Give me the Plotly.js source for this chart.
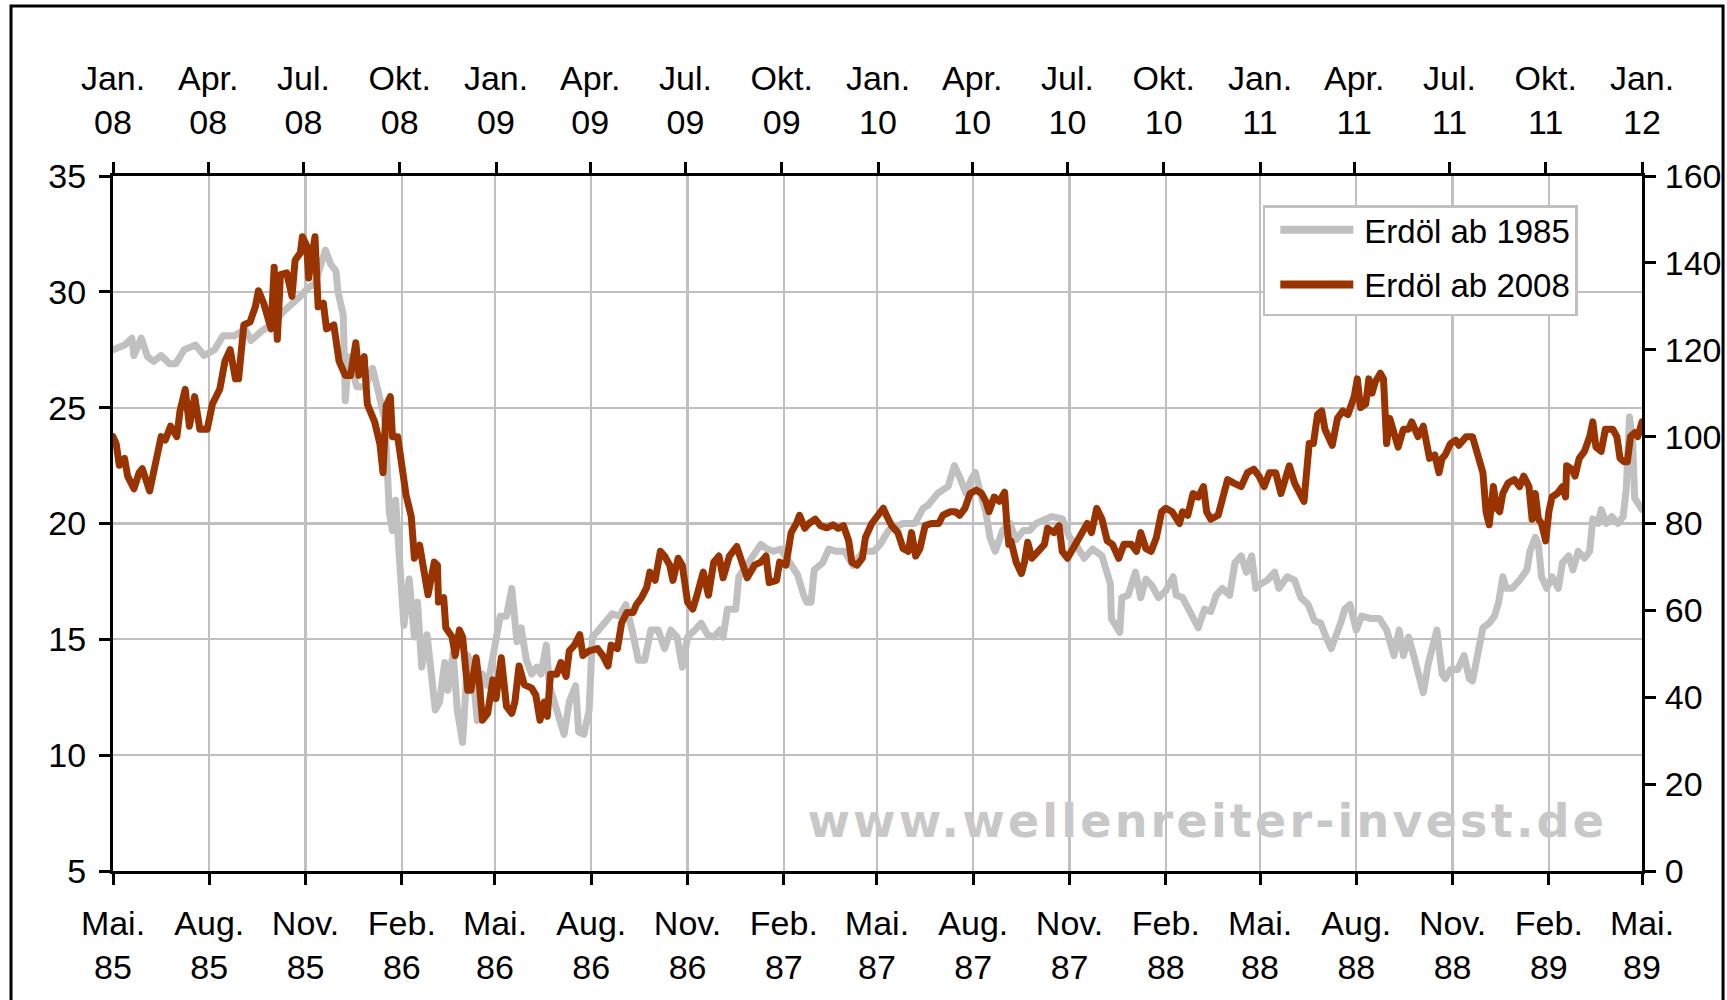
<!DOCTYPE html>
<html><head><meta charset="utf-8">
<script src="https://cdn.plot.ly/plotly-3.0.1.min.js"></script>
<style>
html,body{margin:0;padding:0;background:#fff;}
#chart{width:1727px;height:1000px;}
.scatterlayer path.js-line{stroke-linejoin:round;stroke-linecap:round;}
.annotation[data-index="0"] .annotation-text{letter-spacing:3.2px;}
</style></head><body><div id="chart"></div><script>
// ---- Data: crude oil from May 1985 (left axis, bottom dates) ----
const oil1985Dates = ["1985-05-01","1985-05-12","1985-05-19","1985-05-21","1985-05-28","1985-06-03","1985-06-09","1985-06-16","1985-06-24","1985-06-30","1985-07-08","1985-07-19","1985-07-27","1985-08-06","1985-08-14","1985-08-25","1985-09-04","1985-09-10","1985-09-20","1985-10-02","1985-10-12","1985-10-20","1985-10-27","1985-11-04","1985-11-10","1985-11-20","1985-11-25","1985-11-30","1985-12-02","1985-12-07","1985-12-09","1985-12-12","1985-12-20","1985-12-28","1986-01-04","1986-01-10","1986-01-16","1986-01-20","1986-01-23","1986-01-26","1986-01-31","1986-02-03","1986-02-08","1986-02-13","1986-02-16","1986-02-20","1986-02-25","1986-03-01","1986-03-05","1986-03-09","1986-03-14","1986-03-17","1986-03-22","1986-03-26","1986-03-31","1986-04-05","1986-04-10","1986-04-14","1986-04-19","1986-04-24","1986-04-30","1986-05-06","1986-05-12","1986-05-17","1986-05-22","1986-05-26","1986-05-31","1986-06-05","1986-06-10","1986-06-14","1986-06-19","1986-06-22","1986-06-28","1986-07-06","1986-07-11","1986-07-17","1986-07-20","1986-07-25","1986-07-30","1986-08-02","1986-08-08","1986-08-15","1986-08-21","1986-08-28","1986-09-03","1986-09-09","1986-09-15","1986-09-21","1986-09-27","1986-10-04","1986-10-10","1986-10-16","1986-10-22","1986-10-27","1986-11-01","1986-11-08","1986-11-14","1986-11-20","1986-11-26","1986-12-02","1986-12-05","1986-12-09","1986-12-17","1986-12-20","1986-12-27","1987-01-03","1987-01-10","1987-01-16","1987-01-22","1987-01-29","1987-02-06","1987-02-14","1987-02-20","1987-02-23","1987-02-27","1987-03-02","1987-03-10","1987-03-16","1987-03-23","1987-03-31","1987-04-08","1987-04-18","1987-04-28","1987-05-04","1987-05-12","1987-05-20","1987-05-26","1987-06-06","1987-06-14","1987-06-19","1987-06-28","1987-07-08","1987-07-11","1987-07-14","1987-07-20","1987-07-25","1987-07-30","1987-08-03","1987-08-08","1987-08-13","1987-08-17","1987-08-22","1987-08-29","1987-09-05","1987-09-11","1987-09-18","1987-09-24","1987-09-30","1987-10-15","1987-10-25","1987-11-01","1987-11-07","1987-11-15","1987-11-23","1987-12-02","1987-12-05","1987-12-10","1987-12-11","1987-12-16","1987-12-19","1987-12-21","1987-12-27","1988-01-03","1988-01-08","1988-01-13","1988-01-19","1988-01-25","1988-02-01","1988-02-08","1988-02-11","1988-02-17","1988-02-23","1988-02-28","1988-03-03","1988-03-09","1988-03-15","1988-03-20","1988-03-26","1988-04-02","1988-04-07","1988-04-13","1988-04-18","1988-04-23","1988-04-27","1988-05-02","1988-05-08","1988-05-15","1988-05-19","1988-05-27","1988-06-03","1988-06-09","1988-06-16","1988-06-22","1988-06-28","1988-07-03","1988-07-08","1988-07-17","1988-07-21","1988-07-26","1988-08-01","1988-08-06","1988-08-15","1988-08-23","1988-08-30","1988-09-06","1988-09-11","1988-09-15","1988-09-20","1988-09-26","1988-10-01","1988-10-04","1988-10-09","1988-10-14","1988-10-17","1988-10-22","1988-10-25","1988-10-30","1988-11-06","1988-11-12","1988-11-17","1988-11-20","1988-11-25","1988-11-30","1988-12-06","1988-12-11","1988-12-15","1988-12-19","1988-12-22","1988-12-28","1989-01-04","1989-01-11","1989-01-14","1989-01-19","1989-01-22","1989-01-25","1989-01-30","1989-02-04","1989-02-10","1989-02-14","1989-02-20","1989-02-24","1989-03-01","1989-03-07","1989-03-12","1989-03-15","1989-03-20","1989-03-23","1989-03-28","1989-04-02","1989-04-08","1989-04-13","1989-04-16","1989-04-19","1989-04-22","1989-04-24","1989-05-01"];
const oil1985Values = [27.5,27.7,28.0,27.25,28.0,27.2,27.0,27.25,26.9,26.9,27.5,27.7,27.25,27.5,28.1,28.1,28.4,27.9,28.3,28.7,29.2,29.5,29.8,30.2,30.35,31.8,31.2,30.9,30.0,29.0,25.3,27.2,25.9,25.9,26.7,25.6,24.4,20.5,19.7,21.0,18.2,15.6,17.6,15.1,16.6,13.8,15.2,13.5,11.95,12.3,14.0,12.8,14.4,11.95,10.55,14.3,13.5,11.5,13.5,13.0,14.4,16.0,16.0,17.2,14.9,15.5,14.1,13.5,13.8,13.5,14.75,13.0,12.1,10.9,12.3,13.0,11.0,10.9,11.95,15.1,15.4,15.8,16.1,16.0,16.5,15.4,14.1,14.1,15.4,15.4,14.6,15.4,15.1,13.8,15.1,15.4,15.7,15.2,15.1,15.4,15.1,16.3,16.3,17.7,18.2,18.6,19.1,18.9,18.8,18.9,18.3,17.8,16.9,16.6,16.6,18.0,18.3,18.9,18.8,18.8,18.2,18.8,18.8,19.1,19.7,19.9,20.0,20.0,20.65,20.8,21.3,21.6,22.2,22.5,21.9,21.3,21.9,22.2,21.3,20.5,19.4,18.8,19.7,20.0,19.3,19.7,19.7,20.0,20.3,20.2,19.4,19.1,18.5,18.9,18.6,18.2,17.4,15.9,15.5,15.3,16.8,16.9,17.9,16.8,17.6,17.3,16.8,17.1,17.7,16.9,16.8,16.3,15.8,15.5,16.3,16.2,16.9,17.2,16.9,18.3,18.6,17.9,18.6,17.2,17.4,17.55,17.9,17.2,17.7,17.55,16.8,16.5,15.8,15.7,15.1,14.6,15.7,16.3,16.5,15.4,16.0,15.9,15.9,15.4,14.3,15.4,14.3,15.1,14.1,13.2,12.7,14.0,14.75,15.4,13.5,13.3,13.7,13.7,14.3,13.3,13.2,14.4,15.5,15.7,16.0,16.6,17.7,17.2,17.2,17.55,18.0,18.8,19.4,19.1,17.7,17.2,17.7,17.2,18.3,18.6,18.0,18.8,18.5,18.8,20.2,20.0,20.6,20.0,20.3,20.0,20.3,21.5,24.6,23.6,21.1,20.6];

// ---- Data: crude oil from January 2008 (right axis, top dates) ----
const oil2008Dates = ["2008-01-01","2008-01-04","2008-01-07","2008-01-12","2008-01-15","2008-01-21","2008-01-26","2008-01-29","2008-02-05","2008-02-10","2008-02-16","2008-02-20","2008-02-25","2008-03-02","2008-03-05","2008-03-10","2008-03-14","2008-03-19","2008-03-24","2008-03-31","2008-04-05","2008-04-12","2008-04-17","2008-04-22","2008-04-27","2008-04-30","2008-05-05","2008-05-11","2008-05-16","2008-05-19","2008-05-24","2008-05-31","2008-06-03","2008-06-06","2008-06-09","2008-06-15","2008-06-20","2008-06-23","2008-06-28","2008-06-30","2008-07-04","2008-07-06","2008-07-09","2008-07-12","2008-07-15","2008-07-20","2008-07-23","2008-07-30","2008-08-04","2008-08-10","2008-08-15","2008-08-20","2008-08-23","2008-08-28","2008-08-31","2008-09-07","2008-09-12","2008-09-15","2008-09-18","2008-09-22","2008-09-24","2008-09-29","2008-10-02","2008-10-07","2008-10-12","2008-10-15","2008-10-20","2008-10-24","2008-10-28","2008-11-03","2008-11-06","2008-11-07","2008-11-12","2008-11-14","2008-11-20","2008-11-23","2008-11-27","2008-11-30","2008-12-05","2008-12-08","2008-12-13","2008-12-16","2008-12-19","2008-12-24","2008-12-29","2009-01-01","2009-01-06","2009-01-11","2009-01-16","2009-01-19","2009-01-23","2009-01-28","2009-02-04","2009-02-08","2009-02-12","2009-02-16","2009-02-19","2009-02-22","2009-02-28","2009-03-04","2009-03-09","2009-03-12","2009-03-17","2009-03-22","2009-03-25","2009-03-31","2009-04-08","2009-04-13","2009-04-18","2009-04-21","2009-04-27","2009-05-01","2009-05-06","2009-05-12","2009-05-15","2009-05-20","2009-05-25","2009-05-28","2009-06-02","2009-06-07","2009-06-11","2009-06-16","2009-06-19","2009-06-24","2009-06-28","2009-07-03","2009-07-08","2009-07-12","2009-07-18","2009-07-23","2009-07-28","2009-08-02","2009-08-06","2009-08-12","2009-08-19","2009-08-24","2009-08-29","2009-09-05","2009-09-11","2009-09-16","2009-09-19","2009-09-26","2009-09-29","2009-10-05","2009-10-10","2009-10-15","2009-10-18","2009-10-23","2009-10-27","2009-11-02","2009-11-07","2009-11-13","2009-11-19","2009-11-24","2009-11-29","2009-12-04","2009-12-07","2009-12-12","2009-12-17","2009-12-20","2009-12-26","2010-01-01","2010-01-06","2010-01-09","2010-01-14","2010-01-20","2010-01-25","2010-01-30","2010-02-02","2010-02-06","2010-02-10","2010-02-15","2010-02-21","2010-02-28","2010-03-04","2010-03-11","2010-03-16","2010-03-20","2010-03-25","2010-03-30","2010-04-05","2010-04-10","2010-04-14","2010-04-17","2010-04-22","2010-04-27","2010-05-02","2010-05-04","2010-05-06","2010-05-08","2010-05-13","2010-05-18","2010-05-21","2010-05-24","2010-05-28","2010-06-03","2010-06-09","2010-06-12","2010-06-18","2010-06-23","2010-06-26","2010-07-01","2010-07-06","2010-07-10","2010-07-15","2010-07-20","2010-07-24","2010-07-29","2010-08-03","2010-08-08","2010-08-13","2010-08-19","2010-08-24","2010-08-31","2010-09-05","2010-09-09","2010-09-14","2010-09-19","2010-09-24","2010-09-29","2010-10-03","2010-10-09","2010-10-16","2010-10-19","2010-10-24","2010-10-29","2010-11-03","2010-11-08","2010-11-11","2010-11-15","2010-11-22","2010-11-26","2010-12-01","2010-12-07","2010-12-14","2010-12-20","2010-12-26","2010-12-31","2011-01-05","2011-01-10","2011-01-16","2011-01-21","2011-01-24","2011-01-29","2011-02-03","2011-02-08","2011-02-12","2011-02-17","2011-02-21","2011-02-25","2011-03-01","2011-03-04","2011-03-08","2011-03-11","2011-03-16","2011-03-21","2011-03-26","2011-04-01","2011-04-04","2011-04-07","2011-04-12","2011-04-15","2011-04-18","2011-04-21","2011-04-26","2011-04-29","2011-05-02","2011-05-05","2011-05-08","2011-05-13","2011-05-18","2011-05-23","2011-05-26","2011-06-01","2011-06-06","2011-06-09","2011-06-12","2011-06-17","2011-06-21","2011-06-24","2011-06-27","2011-07-02","2011-07-07","2011-07-10","2011-07-17","2011-07-23","2011-07-28","2011-08-02","2011-08-05","2011-08-08","2011-08-12","2011-08-15","2011-08-18","2011-08-21","2011-08-26","2011-09-01","2011-09-06","2011-09-10","2011-09-15","2011-09-18","2011-09-21","2011-09-24","2011-09-27","2011-10-01","2011-10-04","2011-10-07","2011-10-12","2011-10-17","2011-10-20","2011-10-21","2011-10-26","2011-10-29","2011-11-02","2011-11-07","2011-11-12","2011-11-15","2011-11-18","2011-11-23","2011-11-27","2011-12-04","2011-12-08","2011-12-11","2011-12-15","2011-12-18","2011-12-21","2011-12-25","2011-12-28","2012-01-01"];
const oil2008Values = [100.0,98.4,93.4,95.0,90.9,88.0,91.7,92.6,87.5,92.6,100.0,99.2,102.4,100.0,105.9,110.9,102.4,109.2,101.7,101.7,107.5,110.9,117.4,120.0,113.3,113.3,125.7,126.4,129.9,133.6,130.7,124.8,139.0,122.4,137.3,137.7,132.3,140.6,142.3,146.0,144.0,136.5,143.0,146.0,129.9,130.7,124.8,125.7,117.4,114.1,114.1,121.6,114.1,118.4,107.5,103.4,98.4,91.7,107.1,109.2,100.0,100.0,95.0,86.6,81.6,72.0,75.0,70.0,63.6,71.1,70.4,61.9,62.9,56.0,53.9,49.6,55.5,53.9,41.6,41.6,49.1,43.2,34.7,36.3,44.0,39.7,49.1,37.9,36.3,38.9,47.2,42.9,42.1,40.5,34.7,38.9,35.6,45.3,45.3,48.0,44.8,50.7,52.0,54.4,49.6,50.7,51.2,49.6,47.2,52.0,51.2,57.1,59.5,59.5,61.3,62.9,65.3,68.8,66.9,73.6,72.5,70.4,66.9,72.0,70.4,61.9,60.3,63.5,68.8,63.5,71.1,72.5,67.5,72.5,74.7,71.1,67.5,70.4,71.1,72.5,66.4,66.9,71.1,70.4,77.9,80.0,81.9,78.9,80.0,81.0,79.5,79.0,79.7,78.9,79.5,76.0,71.1,70.4,72.0,76.8,80.0,81.9,83.5,81.9,79.5,77.9,74.2,73.6,77.9,72.5,74.2,79.5,80.0,80.0,81.9,82.7,82.7,81.9,83.5,86.9,87.7,86.9,85.1,82.7,86.1,85.1,87.2,80.0,75.2,76.0,71.1,68.5,71.1,75.7,72.0,73.6,75.2,78.9,77.9,79.5,73.6,72.0,74.2,76.0,77.9,80.0,77.9,83.5,81.0,76.0,75.2,72.0,75.2,75.2,73.6,77.9,74.2,73.6,76.8,82.7,83.5,82.7,80.0,82.7,81.9,86.9,86.1,88.5,82.7,81.0,81.9,85.1,90.1,89.3,88.5,91.7,92.5,90.9,88.5,91.7,91.7,86.9,89.3,93.3,89.3,86.9,85.1,98.4,98.4,105.1,105.9,101.7,100.0,98.0,104.2,105.9,105.1,109.2,113.3,106.7,107.5,113.3,110.0,112.5,114.6,113.3,98.4,104.2,101.7,97.6,101.7,101.7,103.4,100.0,102.4,99.2,95.0,95.8,91.7,95.0,95.8,98.4,99.2,98.0,100.0,100.0,95.0,91.7,82.7,79.7,88.5,83.5,82.7,86.9,89.3,90.1,88.5,90.9,88.5,81.0,86.9,81.0,80.0,76.0,82.7,86.1,86.9,88.5,86.1,93.3,92.5,90.9,95.0,96.6,100.0,103.4,97.6,96.6,101.7,101.7,100.0,95.0,94.2,94.2,100.0,100.9,100.0,103.4];

// ---- Ticks ----
const bottomTickDates = ["1985-05-01","1985-08-01","1985-11-01","1986-02-01","1986-05-01","1986-08-01","1986-11-01","1987-02-01","1987-05-01","1987-08-01","1987-11-01","1988-02-01","1988-05-01","1988-08-01","1988-11-01","1989-02-01","1989-05-01"];
const bottomTickText = ["Mai.<br>85","Aug.<br>85","Nov.<br>85","Feb.<br>86","Mai.<br>86","Aug.<br>86","Nov.<br>86","Feb.<br>87","Mai.<br>87","Aug.<br>87","Nov.<br>87","Feb.<br>88","Mai.<br>88","Aug.<br>88","Nov.<br>88","Feb.<br>89","Mai.<br>89"];
const topTickDates = ["2008-01-01","2008-04-01","2008-07-01","2008-10-01","2009-01-01","2009-04-01","2009-07-01","2009-10-01","2010-01-01","2010-04-01","2010-07-01","2010-10-01","2011-01-01","2011-04-01","2011-07-01","2011-10-01","2012-01-01"];
const topTickText = ["Jan.<br>08","Apr.<br>08","Jul.<br>08","Okt.<br>08","Jan.<br>09","Apr.<br>09","Jul.<br>09","Okt.<br>09","Jan.<br>10","Apr.<br>10","Jul.<br>10","Okt.<br>10","Jan.<br>11","Apr.<br>11","Jul.<br>11","Okt.<br>11","Jan.<br>12"];
const leftTicks = [5,10,15,20,25,30,35];
const rightTicks = [0,20,40,60,80,100,120,140,160];
const seriesNames = ["Erdöl ab 1985","Erdöl ab 2008"];
const watermark = "www.wellenreiter-invest.de";

const GRAY = '#C0C0C0', BROWN = '#993300';
const FONT = '"Liberation Sans", Arial, Helvetica, sans-serif';
const FS = 34;

const data = [
  {type:'scatter', mode:'lines', name:seriesNames[0], legendgroup:'a',
   x:oil1985Dates, y:oil1985Values, xaxis:'x', yaxis:'y',
   line:{color:GRAY, width:7}, hoverinfo:'skip'},
  {type:'scatter', mode:'lines', name:seriesNames[1], legendgroup:'b',
   x:oil2008Dates, y:oil2008Values, xaxis:'x2', yaxis:'y2',
   line:{color:BROWN, width:7}, hoverinfo:'skip'}
];

const axisCommon = {showline:true, linecolor:'#000', linewidth:3, ticks:'outside', ticklen:11, tickwidth:3, tickcolor:'#000', zeroline:false, fixedrange:true, automargin:false, tickfont:{family:FONT, size:FS, color:'#000'}};

const layout = {
  width:1727, height:1000,
  margin:{l:113, r:85, t:176, b:129, pad:0},
  paper_bgcolor:'#fff', plot_bgcolor:'#fff',
  font:{family:FONT, size:FS, color:'#000'},
  showlegend:true,
  legend:{x:0.752, y:0.958, xanchor:'left', yanchor:'top', bgcolor:'#fff', bordercolor:GRAY, borderwidth:2.5,
          font:{family:FONT, size:33, color:'#000'}, itemwidth:89, tracegroupgap:3, traceorder:'grouped'},
  xaxis:Object.assign({}, axisCommon, {type:'date', range:['1985-05-01','1989-05-01'], tickmode:'array',
          tickvals:bottomTickDates, ticktext:bottomTickText, showgrid:true, gridcolor:GRAY, gridwidth:2.2, ticklabelstandoff:9}),
  xaxis2:Object.assign({}, axisCommon, {type:'date', range:['2008-01-01','2012-01-01'], tickmode:'array',
          tickvals:topTickDates, ticktext:topTickText, showgrid:false, overlaying:'x', side:'top', anchor:'y2', ticklabelstandoff:14}),
  yaxis:Object.assign({}, axisCommon, {range:[5,35], tickmode:'array', tickvals:leftTicks, showgrid:true, gridcolor:GRAY, gridwidth:2.2, ticklabelstandoff:6}),
  yaxis2:Object.assign({}, axisCommon, {range:[0,160], tickmode:'array', tickvals:rightTicks, showgrid:false, overlaying:'y', side:'right', anchor:'x2', ticklabelstandoff:2}),
  shapes:[{type:'rect', xref:'paper', yref:'paper', x0:-0.0667, x1:1.053, y0:-0.25, y1:1.2446, line:{color:'#000', width:3}, fillcolor:'rgba(0,0,0,0)', layer:'below'}],
  annotations:[{text:watermark, xref:'paper', yref:'paper', x:0.7155, y:0.072, xanchor:'center', yanchor:'middle', showarrow:false,
                font:{family:'"DejaVu Sans", Verdana, sans-serif', size:46, color:'#C8C8C8', weight:'bold'}}]
};

Plotly.newPlot('chart', data, layout, {staticPlot:true, displayModeBar:false}).then(function(gd){
  gd.querySelectorAll('.legend .legendlines path').forEach(function(p){
    p.setAttribute('d','M15,0h73');
    p.style.strokeWidth = '8px';
    p.style.strokeLinecap = 'butt';
  });
  // tighten the legend's top padding to match the reference box
  var groups = gd.querySelector('.legend .groups');
  if (groups) {
    var t = groups.getAttribute('transform') || '';
    groups.setAttribute('transform', t + ' translate(0,-6)');
  }
  var bg = gd.querySelector('.legend rect.bg');
  if (bg) {
    var h = parseFloat(bg.getAttribute('height'));
    if (!isNaN(h)) bg.setAttribute('height', h + 1);
  }
});
</script></body></html>
